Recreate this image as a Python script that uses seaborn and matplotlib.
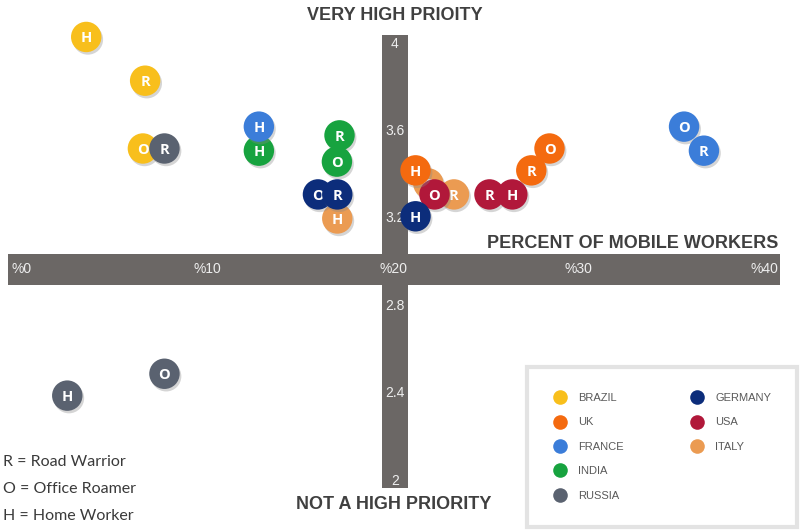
import matplotlib.pyplot as plt
import matplotlib.patheffects as pe
from matplotlib.lines import Line2D
from matplotlib.patches import Rectangle
import pandas as pd
import seaborn as sns

# drawing order matters: later circles sit on top of earlier ones
country = ['ITALY', 'ITALY', 'ITALY',
           'BRAZIL', 'BRAZIL', 'BRAZIL',
           'RUSSIA', 'RUSSIA', 'RUSSIA',
           'INDIA', 'INDIA', 'INDIA',
           'FRANCE', 'FRANCE', 'FRANCE',
           'USA', 'USA', 'USA',
           'GERMANY', 'GERMANY', 'GERMANY',
           'UK', 'UK', 'UK']
worker = ['H', 'O', 'R',
          'H', 'R', 'O',
          'R', 'O', 'H',
          'H', 'R', 'O',
          'H', 'O', 'R',
          'R', 'H', 'O',
          'O', 'R', 'H',
          'H', 'O', 'R']
pct = [17.0, 21.9, 23.28,
       3.49, 6.66, 6.54,
       7.70, 7.70, 2.47,
       12.78, 17.12, 16.98,
       12.78, 35.66, 36.73,
       25.19, 26.42, 22.23,
       15.96, 17.0, 21.21,
       21.21, 28.42, 27.44]
priority = [3.20, 3.36, 3.31,
            4.03, 3.83, 3.52,
            3.52, 2.49, 2.39,
            3.51, 3.58, 3.46,
            3.62, 3.62, 3.51,
            3.31, 3.31, 3.31,
            3.31, 3.31, 3.21,
            3.42, 3.52, 3.42]

legend_order = ['BRAZIL', 'UK', 'FRANCE', 'INDIA', 'RUSSIA', 'GERMANY', 'USA', 'ITALY']
colors = {'BRAZIL': '#f8bf1c', 'UK': '#f46a0f', 'FRANCE': '#3b7dd9',
          'INDIA': '#17a33f', 'RUSSIA': '#5a6270', 'GERMANY': '#0c2d7b',
          'USA': '#b1183a', 'ITALY': '#eb9b52'}

x_ticks = [0, 10, 20, 30, 40]
x_tick_labels = ['%0', '%10', '%20', '%30', '%40']
y_ticks = [2, 2.4, 2.8, 3.2, 3.6, 4]
y_tick_labels = ['2', '2.4', '2.8', '3.2', '3.6', '4']

notes = ['R = Road Warrior', 'O = Office Roamer', 'H = Home Worker']

df = pd.DataFrame({'country': country, 'worker': worker,
                   'pct': pct, 'priority': priority})

sns.set_style('white')
plt.rcParams['font.family'] = ['Liberation Sans', 'DejaVu Sans']

fig = plt.figure(figsize=(8, 5.31), dpi=100)
ax = fig.add_axes([0, 0, 1, 1])
ax.set_xlim(-1.15, 41.9)
ax.set_ylim(1.771, 4.199)
ax.axis('off')

# the two crossing grey bars act as the axes
bar_col = '#6b6765'
ax.add_patch(Rectangle((-0.72, 2.896), 41.55, 0.142, color=bar_col, lw=0, zorder=1))
ax.add_patch(Rectangle((19.41, 1.968), 1.4, 2.071, color=bar_col, lw=0, zorder=1))

for t, lab in zip(x_ticks, x_tick_labels):
    ax.text(t, 2.967, lab, color='#eeeeee', fontsize=10, ha='center',
            va='center', zorder=2)
for t, lab in zip(y_ticks, y_tick_labels):
    ax.text(20.1, t, lab, color='#eeeeee', fontsize=10, ha='center',
            va='center', zorder=2)

shadow = [pe.SimplePatchShadow(offset=(1.2, -1.8), shadow_rgbFace='#888888', alpha=0.35),
          pe.Normal()]

for i, row in df.iterrows():
    sns.scatterplot(data=df.iloc[[i]], x='pct', y='priority', hue='country',
                    palette=colors, s=480, edgecolor='none', legend=False,
                    ax=ax, zorder=3 + 2 * i, path_effects=shadow)
    ax.text(row.pct, row.priority, row.worker, color='white', fontsize=10.5,
            fontweight='bold', family=['Open Sans', 'DejaVu Sans'],
            ha='center', va='center_baseline', zorder=4 + 2 * i)

title_font = dict(family=['Liberation Sans Narrow', 'Liberation Sans'],
                  fontweight='bold', color='#404040', fontsize=13)
fig.text(0.494, 0.970, 'VERY HIGH PRIOITY', ha='center', va='center', **title_font)
fig.text(0.4925, 0.049, 'NOT A HIGH PRIORITY', ha='center', va='center', **title_font)
fig.text(0.9725, 0.542, 'PERCENT OF MOBILE WORKERS', ha='right', va='center', **title_font)

for k, note in enumerate(notes):
    fig.text(0.004, 0.130 - k * 0.0505, note, ha='left', va='center',
             fontsize=11.5, color='#3a3a3a', family=['Lato', 'DejaVu Sans'])

handles = [Line2D([], [], marker='o', ls='', markersize=10.5,
                  markerfacecolor=colors[c], markeredgecolor='none')
           for c in legend_order]
labels = list(legend_order)
# blank entry so the first column holds five countries
handles.append(Line2D([], [], ls='', marker=None))
labels.append('')
leg = ax.legend(handles, labels, ncol=2, loc='upper left', mode='expand',
                bbox_to_anchor=(0.659, 0.009, 0.3375, 0.3),
                bbox_transform=fig.transFigure, borderaxespad=0,
                fontsize=8, labelcolor='#595959', frameon=True, fancybox=False,
                borderpad=2.35, labelspacing=1.3, handlelength=1.2,
                handletextpad=1.0)
leg.get_frame().set_edgecolor('#dcdcdc')
leg.get_frame().set_linewidth(3)

fig.savefig('out.png', dpi=100)
